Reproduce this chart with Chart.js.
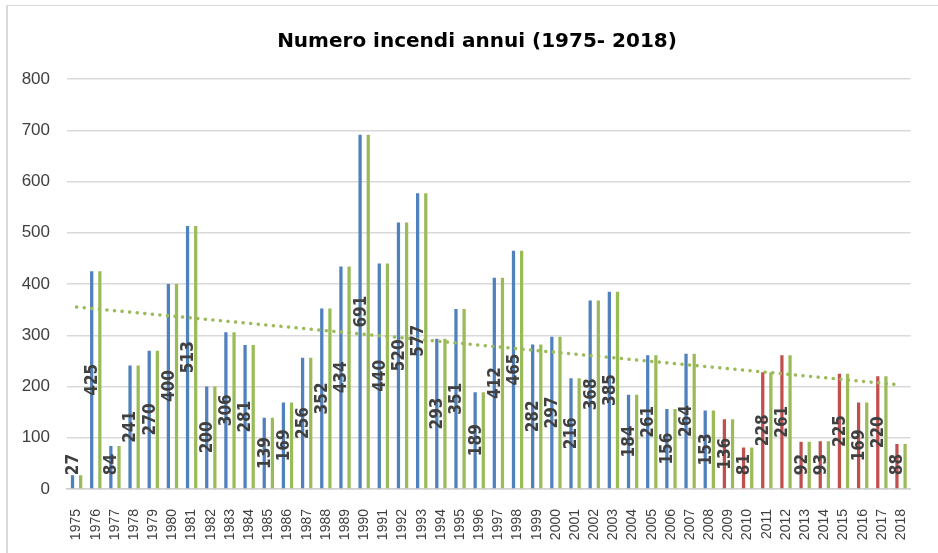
<!DOCTYPE html>
<html>
<head>
<meta charset="utf-8">
<script src="https://cdn.jsdelivr.net/npm/chart.js@4/dist/chart.umd.min.js"></script>
<style>
  body { margin: 0; background: #fff; }
  #frame { position: absolute; left: 6px; top: 5px; width: 2000px; height: 2000px;
           border-left: 2px solid #d9d9d9; border-top: 1px solid #d9d9d9; }
  #wrap { position: absolute; left: 0; top: 0; width: 938px; height: 553px; }
</style>
</head>
<body>
<div id="frame"></div>
<div id="wrap"><canvas id="chart" width="938" height="553"></canvas></div>
<script>
const anni = ['1975','1976','1977','1978','1979','1980','1981','1982','1983','1984',
    '1985','1986','1987','1988','1989','1990','1991','1992','1993','1994',
    '1995','1996','1997','1998','1999','2000','2001','2002','2003','2004',
    '2005','2006','2007','2008','2009','2010','2011','2012','2013','2014',
    '2015','2016','2017','2018'];
const incendi = [27, 425, 84, 241, 270, 400, 513, 200, 306, 281,
    139, 169, 256, 352, 434, 691, 440, 520, 577, 293,
    351, 189, 412, 465, 282, 297, 216, 368, 385, 184,
    261, 156, 264, 153, 136, 81, 228, 261, 92, 93,
    225, 169, 220, 88];
const incendiGreen = incendi.slice();
// trend line: start (1975) and end (2018)
const trendStart = 355;
const trendEnd = 203;
const yTicks = [0, 100, 200, 300, 400, 500, 600, 700, 800];

const titolo = 'Numero incendi annui (1975- 2018)';

// years from 2009 onward are drawn red
function barColor(year) {
    return Number(year) >= 2009 ? '#C0504D' : '#4F81BD';
}

function trendData() {
    const d = anni.map(() => null);
    d[0] = trendStart;
    d[d.length - 1] = trendEnd;
    return d;
}

const titlePlugin = {
    id: 'titleText',
    afterDraw(chart) {
        const ctx = chart.ctx;
        ctx.save();
        ctx.font = 'bold 20px "DejaVu Sans"';
        ctx.fillStyle = '#000';
        ctx.textAlign = 'center';
        ctx.textBaseline = 'middle';
        ctx.fillText(titolo, 477, 42);
        ctx.restore();
    }
};

// value labels, rotated, in the middle of the first bar of each year
const barLabels = {
    id: 'barLabels',
    afterDraw(chart) {
        const ctx = chart.ctx;
        const meta = chart.getDatasetMeta(0);
        ctx.save();
        ctx.font = 'bold 17px "DejaVu Sans Condensed"';
        ctx.fillStyle = '#404040';
        ctx.textAlign = 'center';
        ctx.textBaseline = 'middle';
        meta.data.forEach((bar, i) => {
            const txt = String(incendi[i]);
            const half = ctx.measureText(txt).width / 2;
            let y = (bar.y + bar.base) / 2;
            y = Math.min(y, bar.base - 13 - half);
            ctx.save();
            ctx.translate(bar.x, y);
            ctx.rotate(-Math.PI / 2);
            ctx.fillText(txt, 0, 1);
            ctx.restore();
        });
        ctx.restore();
    }
};

const ctx = document.getElementById('chart').getContext('2d');
new Chart(ctx, {
    type: 'bar',
    data: {
        labels: anni,
        datasets: [{
            data: incendi,
            backgroundColor: anni.map(barColor),
            categoryPercentage: 0.85,
            barPercentage: 0.4,
            order: 1
        }, {
            data: incendiGreen,
            backgroundColor: '#9BBB59',
            categoryPercentage: 0.85,
            barPercentage: 0.4,
            order: 2
        }, {
            type: 'line',
            data: trendData(),
            borderColor: '#9BBB59',
            borderWidth: 3.5,
            borderDash: [0.1, 7.5],
            borderCapStyle: 'round',
            pointRadius: 0,
            spanGaps: true,
            fill: false,
            order: 0
        }]
    },
    options: {
        responsive: false,
        animation: false,
        layout: { padding: { top: 79, right: 16, left: 0, bottom: 0 } },
        plugins: {
            legend: { display: false },
            tooltip: { enabled: false },
            title: { display: false }
        },
        scales: {
            x: {
                grid: { display: false, drawTicks: false },
                border: { display: true, color: '#d0d0d0', width: 1.5 },
                ticks: {
                    minRotation: 90, maxRotation: 90,
                    autoSkip: false,
                    padding: 20,
                    color: '#404040',
                    font: { family: 'Liberation Sans', size: 14 }
                },
                afterFit(scale) { scale.height = 64; }
            },
            y: {
                min: 0, max: 800,
                afterBuildTicks(scale) { scale.ticks = yTicks.map(v => ({ value: v })); },
                grid: { color: '#d9d9d9', lineWidth: 1.5, drawTicks: false },
                border: { display: false },
                ticks: {
                    padding: 17,
                    color: '#404040',
                    font: { family: 'Liberation Sans', size: 17 }
                },
                afterFit(scale) { scale.width = 67; }
            }
        }
    },
    plugins: [titlePlugin, barLabels]
});
</script>
</body>
</html>
